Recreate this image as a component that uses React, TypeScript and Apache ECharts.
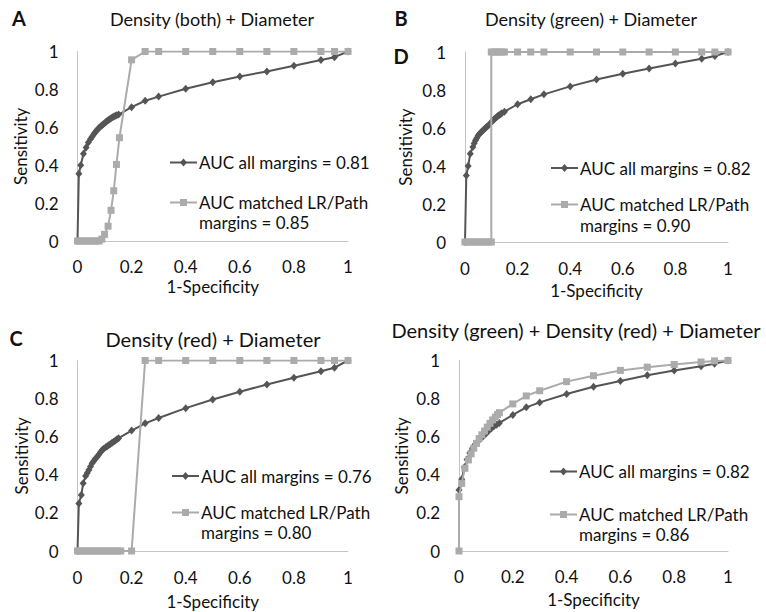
import React, { useEffect, useRef } from "react";
import * as echarts from "echarts";

// ---------- DATA ----------
const panelTitles = [
  "Density (both) + Diameter",
  "Density (green) + Diameter",
  "Density (red) + Diameter",
  "Density (green) + Density (red) + Diameter",
];
const panelLetters = ["A", "B", "C", ""];
const allLabels = [
  "AUC all margins = 0.81",
  "AUC all margins = 0.82",
  "AUC all margins = 0.76",
  "AUC all margins = 0.82",
];
const matchedLabels = [
  ["AUC matched LR/Path", "margins = 0.85"],
  ["AUC matched LR/Path", "margins = 0.90"],
  ["AUC matched LR/Path", "margins = 0.80"],
  ["AUC matched LR/Path", "margins = 0.86"],
];
const xTicks = [0, 0.2, 0.4, 0.6, 0.8, 1];
const yTicks = [0, 0.2, 0.4, 0.6, 0.8, 1];

const aAll = [
  [0, 0], [0.005, 0.355], [0.012, 0.4], [0.022, 0.46], [0.032, 0.494], [0.04, 0.52], [0.048, 0.538],
  [0.054, 0.55], [0.06, 0.563], [0.065, 0.573], [0.07, 0.582], [0.075, 0.59], [0.08, 0.597],
  [0.085, 0.604], [0.09, 0.61], [0.095, 0.616], [0.1, 0.622], [0.105, 0.628], [0.11, 0.634],
  [0.115, 0.639], [0.12, 0.644], [0.125, 0.649], [0.13, 0.653], [0.135, 0.657], [0.14, 0.661],
  [0.145, 0.664], [0.152, 0.667], [0.2, 0.706], [0.25, 0.74], [0.3, 0.762], [0.4, 0.803],
  [0.5, 0.838], [0.6, 0.868], [0.7, 0.895], [0.8, 0.925], [0.9, 0.955], [0.95, 0.97], [1, 1],
];
const aMatched = [
  [0, 0], [0.01, 0], [0.02, 0], [0.03, 0], [0.04, 0], [0.05, 0], [0.06, 0], [0.07, 0], [0.08, 0],
  [0.09, 0.01], [0.1, 0.035], [0.113, 0.078], [0.124, 0.162], [0.134, 0.265], [0.144, 0.404],
  [0.155, 0.545], [0.2, 0.956], [0.25, 1], [0.3, 1], [0.4, 1], [0.5, 1], [0.6, 1], [0.7, 1],
  [0.8, 1], [0.9, 1], [0.95, 1], [1, 1],
];
const bAll = [
  [0, 0], [0.005, 0.35], [0.012, 0.4], [0.02, 0.465], [0.03, 0.5], [0.035, 0.52], [0.04, 0.535],
  [0.045, 0.548], [0.05, 0.56], [0.055, 0.568], [0.06, 0.576], [0.065, 0.583], [0.07, 0.59],
  [0.075, 0.597], [0.08, 0.603], [0.085, 0.609], [0.09, 0.614], [0.1, 0.63], [0.105, 0.638],
  [0.11, 0.645], [0.115, 0.651], [0.12, 0.657], [0.125, 0.663], [0.13, 0.668], [0.135, 0.673],
  [0.14, 0.678], [0.15, 0.686], [0.2, 0.725], [0.25, 0.751], [0.3, 0.777], [0.4, 0.819],
  [0.5, 0.855], [0.6, 0.886], [0.7, 0.913], [0.8, 0.939], [0.9, 0.965], [0.95, 0.979], [1, 1],
];
const bMatched = [
  [0, 0], [0.01, 0], [0.02, 0], [0.03, 0], [0.04, 0], [0.05, 0], [0.06, 0], [0.07, 0], [0.08, 0],
  [0.09, 0], [0.1, 0], [0.1, 1], [0.11, 1], [0.12, 1], [0.13, 1], [0.14, 1], [0.15, 1], [0.2, 1],
  [0.25, 1], [0.3, 1], [0.4, 1], [0.5, 1], [0.6, 1], [0.7, 1], [0.8, 1], [0.9, 1], [0.95, 1], [1, 1],
];
const cAll = [
  [0, 0], [0.005, 0.25], [0.014, 0.294], [0.021, 0.355], [0.03, 0.394], [0.036, 0.41], [0.042, 0.425],
  [0.048, 0.443], [0.054, 0.46], [0.06, 0.472], [0.066, 0.484], [0.073, 0.495], [0.079, 0.507],
  [0.085, 0.519], [0.091, 0.53], [0.097, 0.537], [0.104, 0.544], [0.11, 0.55], [0.116, 0.556],
  [0.122, 0.562], [0.128, 0.568], [0.134, 0.574], [0.14, 0.58], [0.146, 0.586], [0.152, 0.592],
  [0.2, 0.632], [0.25, 0.67], [0.3, 0.698], [0.4, 0.75], [0.5, 0.795], [0.6, 0.836], [0.7, 0.874],
  [0.8, 0.909], [0.9, 0.944], [0.95, 0.962], [1, 1],
];
const cMatched = [
  [0, 0], [0.01, 0], [0.02, 0], [0.03, 0], [0.04, 0], [0.05, 0], [0.06, 0], [0.07, 0], [0.08, 0],
  [0.09, 0], [0.1, 0], [0.11, 0], [0.12, 0], [0.13, 0], [0.14, 0], [0.15, 0], [0.16, 0], [0.2, 0],
  [0.25, 1], [0.3, 1], [0.4, 1], [0.5, 1], [0.6, 1], [0.7, 1], [0.8, 1], [0.9, 1], [0.95, 1], [1, 1],
];
const dAll = [
  [0, 0.32], [0.01, 0.376], [0.02, 0.44], [0.03, 0.48], [0.04, 0.515], [0.05, 0.54], [0.06, 0.56],
  [0.07, 0.575], [0.08, 0.59], [0.09, 0.602], [0.1, 0.615], [0.11, 0.63], [0.12, 0.643],
  [0.13, 0.655], [0.14, 0.663], [0.15, 0.672], [0.2, 0.714], [0.25, 0.754], [0.3, 0.78],
  [0.4, 0.824], [0.5, 0.862], [0.6, 0.892], [0.7, 0.923], [0.8, 0.948], [0.9, 0.97], [0.95, 0.983], [1, 1],
];
const dMatched = [
  [0, 0], [0, 0.285], [0.01, 0.355], [0.022, 0.434], [0.035, 0.478], [0.045, 0.51], [0.055, 0.54],
  [0.065, 0.565], [0.075, 0.59], [0.085, 0.61], [0.095, 0.63], [0.105, 0.65], [0.115, 0.67],
  [0.125, 0.688], [0.135, 0.703], [0.143, 0.716], [0.15, 0.726], [0.2, 0.772], [0.25, 0.814],
  [0.3, 0.841], [0.4, 0.889], [0.5, 0.92], [0.6, 0.948], [0.7, 0.965], [0.8, 0.979], [0.9, 0.992],
  [0.95, 0.998], [1, 1],
];
const allSeries = [aAll, bAll, cAll, dAll];
const matchedSeries = [aMatched, bMatched, cMatched, dMatched];

// ---------- LAYOUT / STYLE ----------
const FONT = "Lato";
const DARK = "#555555";
const LIGHT = "#ababab";
const AXIS = "#c4c4c4";
const grids = [
  { left: 77.5, top: 51.5, width: 270.5, height: 189.5 },
  { left: 465, top: 52, width: 263, height: 190 },
  { left: 77.5, top: 360.5, width: 270.5, height: 190.5 },
  { left: 459, top: 360.5, width: 269, height: 190.5 },
];
const xLabelMargin = [17, 17.5, 18, 16.5];
const xNameGap = [37, 39.5, 41.5, 40];
const yNameGap = [48.5, 51.5, 48, 49];
const titleSize = [18, 18, 20, 20];
const titlePos = [[212, 18.5], [591, 18.5], [213, 339], [576, 329.5]];
const letterPos = [[19, 18], [401, 18], [16, 337.5], [0, 0]];
const legendPos = [
  { x: 170, y1: 162.5, y2: 202.5, y3: 222 },
  { x: 551, y1: 168, y2: 204.5, y3: 225 },
  { x: 172, y1: 476, y2: 512.5, y3: 532.5 },
  { x: 550, y1: 471.5, y2: 514.5, y3: 534.5 },
];

function legendGraphics(i: number) {
  const p = legendPos[i];
  const lw = 27;
  const tx = p.x + lw + 2;
  const textStyle = { font: `17px ${FONT}`, fill: "#111", textVerticalAlign: "middle" };
  const cx = p.x + lw / 2;
  return [
    { type: "line", shape: { x1: p.x, y1: p.y1, x2: p.x + lw, y2: p.y1 }, style: { stroke: DARK, lineWidth: 2 } },
    {
      type: "polygon",
      shape: { points: [[cx, p.y1 - 4], [cx + 3.5, p.y1], [cx, p.y1 + 4], [cx - 3.5, p.y1]] },
      style: { fill: DARK },
    },
    { type: "text", x: tx, y: p.y1, style: { ...textStyle, text: allLabels[i] } },
    { type: "line", shape: { x1: p.x, y1: p.y2, x2: p.x + lw, y2: p.y2 }, style: { stroke: LIGHT, lineWidth: 2 } },
    { type: "rect", shape: { x: cx - 3.5, y: p.y2 - 3.5, width: 7, height: 7 }, style: { fill: LIGHT } },
    { type: "text", x: tx, y: p.y2, style: { ...textStyle, text: matchedLabels[i][0] } },
    { type: "text", x: tx, y: p.y3, style: { ...textStyle, text: matchedLabels[i][1] } },
  ];
}

export default function App() {
  const ref = useRef<HTMLDivElement>(null);
  useEffect(() => {
    if (!ref.current) return;
    const chart = echarts.init(ref.current, undefined, { renderer: "svg" });
    const labelStyle = { fontFamily: FONT, fontSize: 17, color: "#111" };
    const option: any = {
      animation: false,
      backgroundColor: "#ffffff",
      textStyle: { fontFamily: FONT },
      grid: grids.map((g) => ({ ...g, outerBoundsMode: "none", containLabel: false })),
      xAxis: grids.map((_, i) => ({
        type: "value",
        gridIndex: i,
        min: xTicks[0],
        max: xTicks[xTicks.length - 1],
        interval: 0.2,
        axisLine: { show: true, onZero: false, lineStyle: { color: AXIS, width: 1 } },
        axisTick: { show: false },
        splitLine: { show: false },
        axisLabel: { ...labelStyle, margin: xLabelMargin[i] },
        name: "1-Specificity",
        nameLocation: "middle",
        nameGap: xNameGap[i],
        nameTextStyle: labelStyle,
      })),
      yAxis: grids.map((_, i) => ({
        type: "value",
        gridIndex: i,
        min: yTicks[0],
        max: yTicks[yTicks.length - 1],
        interval: 0.2,
        axisLine: { show: true, onZero: false, lineStyle: { color: AXIS, width: 1 } },
        axisTick: { show: false },
        splitLine: { show: false },
        axisLabel: { ...labelStyle, margin: 19, align: "right" },
        name: "Sensitivity",
        nameLocation: "middle",
        nameGap: yNameGap[i],
        nameTextStyle: labelStyle,
      })),
      series: [
        ...allSeries.map((d, i) => ({
          type: "line",
          name: allLabels[i] + " " + i,
          xAxisIndex: i,
          yAxisIndex: i,
          data: d,
          symbol: "diamond",
          symbolSize: [7, 8],
          showAllSymbol: true,
          lineStyle: { color: DARK, width: 2 },
          itemStyle: { color: DARK },
          z: 2,
        })),
        ...matchedSeries.map((d, i) => ({
          type: "line",
          name: matchedLabels[i].join(" ") + " " + i,
          xAxisIndex: i,
          yAxisIndex: i,
          data: d,
          symbol: "rect",
          symbolSize: 7,
          showAllSymbol: true,
          lineStyle: { color: LIGHT, width: 2 },
          itemStyle: { color: LIGHT },
          z: 3,
        })),
      ],
      graphic: [
        ...titlePos.map((p, i) => ({
          type: "text",
          x: p[0],
          y: p[1],
          style: { text: panelTitles[i], font: `${titleSize[i]}px ${FONT}`, fill: "#111", textAlign: "center", textVerticalAlign: "middle" },
        })),
        ...letterPos
          .map((p, i) => ({
            type: "text",
            x: p[0],
            y: p[1],
            style: { text: panelLetters[i], font: `bold 20px ${FONT}`, fill: "#111", textAlign: "center", textVerticalAlign: "middle" },
          }))
          .filter((g) => g.style.text !== ""),
        {
          type: "text",
          x: 401,
          y: 56,
          style: { text: "D", font: `bold 20px ${FONT}`, fill: "#111", textAlign: "center", textVerticalAlign: "middle" },
        },
        ...[0, 1, 2, 3].flatMap((i) => legendGraphics(i)),
      ],
    };
    chart.setOption(option);
    return () => chart.dispose();
  }, []);
  return (
    <div
      ref={ref}
      style={{ position: "fixed", left: 0, top: 0, width: 766, height: 612, background: "#fff" }}
    />
  );
}
